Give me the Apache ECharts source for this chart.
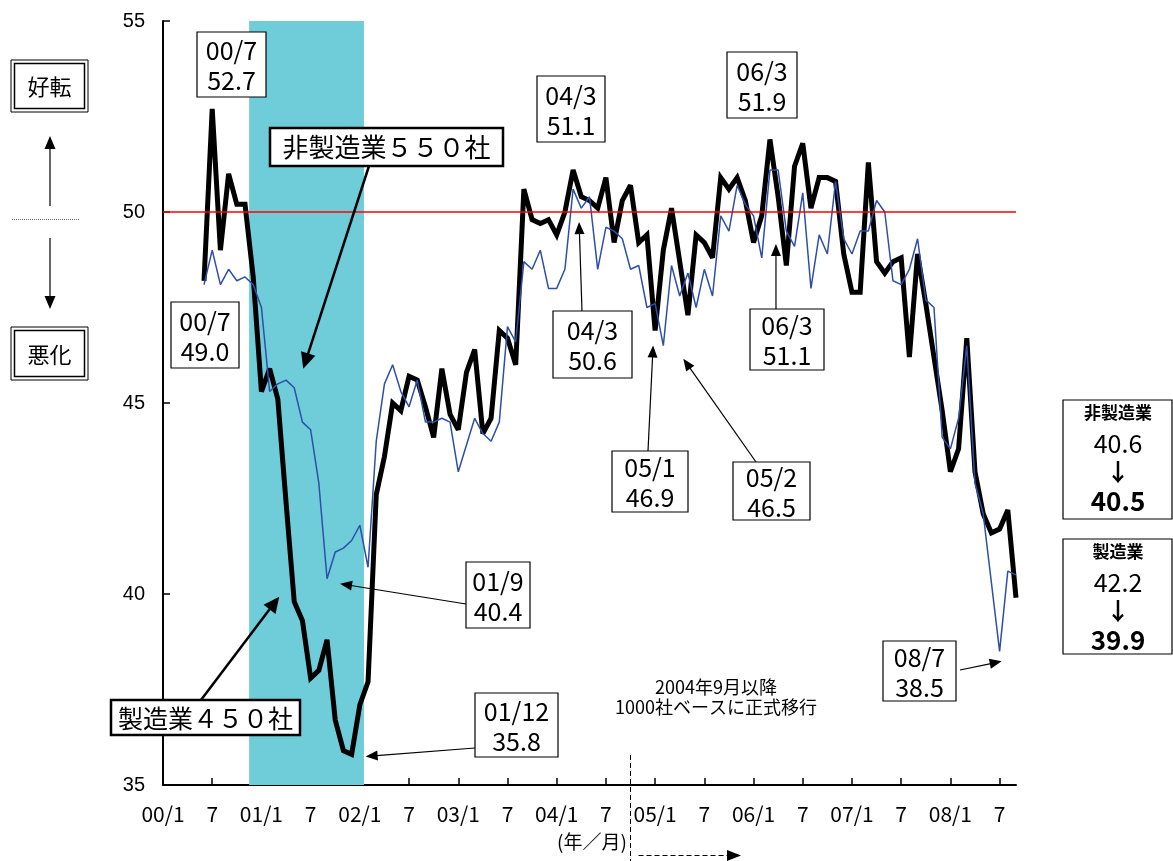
<!DOCTYPE html>
<html>
<head>
<meta charset="utf-8">
<script src="https://cdn.jsdelivr.net/npm/echarts@6/dist/echarts.min.js"></script>
<style>
  html, body { margin: 0; padding: 0; background: #fff; }
  #chart { width: 1173px; height: 861px; }
</style>
</head>
<body>
<div id="chart"></div>
<script>
// Business sentiment index (DI), monthly, 2000/6 - 2008/9
const axisStartYear = 2000;          // x = 0 is 2000/1
const firstObs = '2000/6';           // first month of both series
const tickLabels = ['00/1','7','01/1','7','02/1','7','03/1','7','04/1','7',
                    '05/1','7','06/1','7','07/1','7','08/1','7'];
const tickStep = 6;                  // months between ticks

// 製造業 (manufacturing, 450 firms)
const manufacturing = [
  48.2, 52.7, 49.0, 51.0, 50.2, 50.2, 48.3, 45.3, 45.9, 45.1,
  42.4, 39.8, 39.3, 37.8, 38.0, 38.8, 36.7, 35.9, 35.8, 37.1,
  37.7, 42.6, 43.6, 45.0, 44.8, 45.7, 45.6, 44.9, 44.1, 45.9,
  44.7, 44.3, 45.8, 46.4, 44.2, 44.6, 46.9, 46.7, 46.0, 50.6,
  49.8, 49.7, 49.8, 49.4, 50.0, 51.1, 50.4, 50.3, 50.1, 50.9,
  49.2, 50.3, 50.7, 49.2, 49.4, 46.9, 49.0, 50.1, 48.7, 47.3,
  49.4, 49.2, 48.8, 50.9, 50.6, 50.9, 50.3, 49.2, 49.9, 51.9,
  50.4, 48.6, 51.2, 51.8, 50.1, 50.9, 50.9, 50.8, 48.9, 47.9,
  47.9, 51.3, 48.7, 48.4, 48.7, 48.8, 46.2, 48.9, 47.6, 46.2,
  44.8, 43.2, 43.8, 46.7, 43.2, 42.1, 41.6, 41.7, 42.2, 39.9
];
// 非製造業 (non-manufacturing, 550 firms)
const nonManufacturing = [
  48.1, 49.0, 48.1, 48.5, 48.2, 48.3, 48.1, 47.5, 45.3, 45.5,
  45.6, 45.4, 44.5, 44.3, 42.9, 40.4, 41.1, 41.2, 41.4, 41.8,
  40.7, 44.0, 45.5, 46.0, 45.3, 44.9, 45.6, 44.5, 44.5, 44.6,
  44.5, 43.2, 43.9, 44.6, 44.2, 44.0, 44.5, 47.0, 46.6, 48.7,
  48.5, 49.0, 48.0, 48.0, 48.5, 50.6, 50.1, 50.4, 48.5, 49.6,
  49.5, 49.3, 48.5, 48.6, 47.5, 47.6, 46.5, 48.6, 47.8, 48.4,
  47.5, 48.5, 47.8, 49.9, 49.5, 50.7, 50.2, 49.9, 48.8, 51.1,
  51.1, 49.5, 49.1, 50.5, 48.0, 49.4, 48.9, 50.8, 49.3, 48.9,
  49.5, 49.5, 50.3, 50.0, 48.2, 48.1, 48.5, 49.3, 47.7, 47.5,
  44.1, 43.8, 44.6, 46.5, 42.9, 42.1, 40.3, 38.5, 40.6, 40.5
];
const recessionMonths = ['2000/12', '2002/1'];   // shaded span (inclusive)
const neutralLine = 50;
const baseChangeMonth = '2004/10';               // first month on the 1000-firm base

const monthIndex = s => {
  const [y, m] = s.split('/').map(Number);
  return (y - axisStartYear) * 12 + (m - 1);
};
const first = monthIndex(firstObs);
const lastIndex = first + manufacturing.length - 1;
const toPoints = arr => arr.map((v, k) => [first + k, v]);
const valueAt = (arr, s) => arr[monthIndex(s) - first];
const shortMonth = s => { const [y, m] = s.split('/'); return y.slice(2) + '/' + m; };
const tickValues = tickLabels.map((_, k) => k * tickStep);

const JP = '"Noto Sans CJK JP", "Noto Sans", sans-serif';
const chart = echarts.init(document.getElementById('chart'), null, { renderer: 'canvas' });

chart.setOption({
  animation: false,
  backgroundColor: '#fff',
  grid: { left: 163, right: 157, top: 21, bottom: 76 },
  xAxis: {
    type: 'value', min: 0, max: lastIndex,
    axisLine: { onZero: false, lineStyle: { color: '#000', width: 2 } },
    axisTick: { inside: true, length: 7, customValues: tickValues, lineStyle: { color: '#000', width: 1.5 } },
    axisLabel: {
      customValues: tickValues,
      formatter: v => tickLabels[Math.round(v / tickStep)],
      color: '#000', fontFamily: JP, fontSize: 21, margin: 19
    },
    splitLine: { show: false }
  },
  yAxis: {
    type: 'value', min: 35, max: 55, interval: 5,
    axisLine: { show: true, onZero: false, lineStyle: { color: '#000', width: 2 } },
    axisTick: { show: true, inside: true, length: 7, lineStyle: { color: '#000', width: 1.5 } },
    axisLabel: { color: '#000', fontFamily: '"Liberation Sans", Arial, sans-serif', fontSize: 20, margin: 18 },
    splitLine: { show: false }
  },
  series: [
    {
      type: 'line', data: [], z: 1, silent: true,
      markArea: {
        silent: true,
        itemStyle: { color: '#6FCCD9', opacity: 1 },
        data: [[{ xAxis: monthIndex(recessionMonths[0]) - 0.5 }, { xAxis: monthIndex(recessionMonths[1]) + 0.5 }]]
      },
      markLine: {
        silent: true, symbol: 'none', label: { show: false },
        lineStyle: { color: '#FF0000', width: 1.5, type: 'solid' },
        data: [{ yAxis: neutralLine }]
      }
    },
    {
      name: '製造業', type: 'line', data: toPoints(manufacturing), z: 3,
      showSymbol: false, symbol: 'none',
      lineStyle: { color: '#000', width: 5, join: 'miter', miterLimit: 3 }
    },
    {
      name: '非製造業', type: 'line', data: toPoints(nonManufacturing), z: 4,
      showSymbol: false, symbol: 'none',
      lineStyle: { color: '#2D4FA8', width: 1.5 }
    }
  ]
});

// ---------- annotations ----------
const px = (x, y) => chart.convertToPixel({ gridIndex: 0 }, [x, y]);

function arrow(x1, y1, x2, y2, lw, len, wid) {
  const dx = x2 - x1, dy = y2 - y1, L = Math.hypot(dx, dy);
  const ux = dx / L, uy = dy / L, nx = -uy, ny = ux;
  const bx = x2 - ux * len, by = y2 - uy * len;
  return [
    { type: 'line', z: 20, shape: { x1, y1, x2: bx + ux, y2: by + uy }, style: { stroke: '#000', lineWidth: lw } },
    { type: 'polygon', z: 20, shape: { points: [[x2, y2], [bx + nx * wid / 2, by + ny * wid / 2], [bx - nx * wid / 2, by - ny * wid / 2]] },
      style: { fill: '#000' } }
  ];
}
function textEl(x, y, text, font, extra) {
  return Object.assign({
    type: 'text', z: 22,
    style: { x, y, text, font, fill: '#000', align: 'center', verticalAlign: 'middle',
             textAlign: 'center', textVerticalAlign: 'middle' }
  }, extra || {});
}
function boxEl(x, y, w, h, lw) {
  return { type: 'rect', z: 21, shape: { x, y, width: w, height: h },
           style: { fill: '#fff', stroke: '#000', lineWidth: lw } };
}
function valueBox(x, y, w, h, label, value) {
  const t = textEl(x + w / 2, y + h / 2 + 1, label + '\n' + value.toFixed(1), '25px ' + JP);
  t.style.lineHeight = 30;
  return [boxEl(x, y, w, h, 1.2), t];
}
// arrow tip anchored to a data point, shifted by (dx, dy) pixels
function pointTo(arr, month, from, dx, dy, heavy) {
  const p = px(monthIndex(month), valueAt(arr, month));
  return heavy ? arrow(from[0], from[1], p[0] + dx, p[1] + dy, 2.5, 16, 15)
               : arrow(from[0], from[1], p[0] + dx, p[1] + dy, 1.2, 12, 10);
}

const g = [];
const M = manufacturing, N = nonManufacturing;

// value call-outs
g.push(...valueBox(197, 32, 69, 65, shortMonth('2000/7'), valueAt(M, '2000/7')));
g.push(...valueBox(171, 302, 68, 66, shortMonth('2000/7'), valueAt(N, '2000/7')));
g.push(...valueBox(466, 562, 64, 66, shortMonth('2001/9'), valueAt(N, '2001/9')));
g.push(...pointTo(N, '2001/9', [466, 604], 13, 5));
g.push(...valueBox(475, 693, 83, 64, shortMonth('2001/12'), valueAt(M, '2001/12')));
g.push(...pointTo(M, '2001/12', [475, 748], 14, 2));
g.push(...valueBox(537, 76, 68, 66, shortMonth('2004/3'), valueAt(M, '2004/3')));
g.push(...pointTo(N, '2004/3', [582, 311], 6, 33));
g.push(...valueBox(553, 311, 79, 67, shortMonth('2004/3'), valueAt(N, '2004/3')));
g.push(...pointTo(M, '2005/1', [648, 451], -2, 15));
g.push(...valueBox(612, 451, 76, 61, shortMonth('2005/1'), valueAt(M, '2005/1')));
g.push(...pointTo(N, '2005/2', [756, 462], 20, 13));
g.push(...valueBox(733, 462, 77, 58, shortMonth('2005/2'), valueAt(N, '2005/2')));
g.push(...valueBox(727, 52, 70, 66, shortMonth('2006/3'), valueAt(M, '2006/3')));
g.push(...pointTo(N, '2006/3', [776, 309], 6, 74));
g.push(...valueBox(750, 309, 74, 61, shortMonth('2006/3'), valueAt(N, '2006/3')));
g.push(...valueBox(883, 641, 73, 60, shortMonth('2008/7'), valueAt(N, '2008/7')));
g.push(...pointTo(N, '2008/7', [960, 670], 2, 10));

// series name call-outs
g.push(...pointTo(N, '2001/5', [369, 166], 9, -19, true));
g.push(boxEl(270, 128, 233, 38, 2.5), textEl(386.5, 147.5, '非製造業５５０社', '26px ' + JP));
g.push(...pointTo(M, '2001/5', [201, 700], -15, -5, true));
g.push(boxEl(111, 700, 189, 35, 2.5), textEl(205.5, 718, '製造業４５０社', '25px ' + JP));

// latest change boxes on the right
const last = manufacturing.length - 1;
function changeBox(y, h, title, prev, cur) {
  return [
    boxEl(1063, y, 109, h, 1.2),
    textEl(1118, y + 13, title, 'bold 17px ' + JP),
    textEl(1118, y + 43, prev.toFixed(1), '25px ' + JP),
    textEl(1118, y + 72, '↓', 'bold 24px ' + JP),
    textEl(1118, y + 101, cur.toFixed(1), 'bold 26px ' + JP)
  ];
}
g.push(...changeBox(400, 119, '非製造業', N[last - 1], N[last]));
g.push(...changeBox(539, 115, '製造業', M[last - 1], M[last]));

// improve / worsen legend on the left
function doubleBox(x, y, w, h, text) {
  return [
    { type: 'rect', z: 21, shape: { x, y, width: w, height: h }, style: { fill: '#fff', stroke: '#000', lineWidth: 1 } },
    { type: 'rect', z: 21, shape: { x: x + 3.5, y: y + 3.5, width: w - 7, height: h - 7 }, style: { fill: 'none', stroke: '#000', lineWidth: 1.5 } },
    textEl(x + w / 2, y + h / 2 + 1, text, '22px ' + JP)
  ];
}
g.push(...doubleBox(11, 60, 77, 52, '好転'));
g.push(...doubleBox(11, 327, 77, 53, '悪化'));
g.push(...arrow(50, 206, 50, 136, 1.2, 13, 11));
g.push(...arrow(50, 238, 50, 309, 1.2, 13, 11));
g.push({ type: 'line', z: 20, shape: { x1: 12, y1: 219.5, x2: 80, y2: 219.5 },
         style: { stroke: '#666', lineWidth: 1, lineDash: [1, 1] } });

// sample base change marker
const bx = px(monthIndex(baseChangeMonth), 35)[0];
g.push({ type: 'line', z: 20, shape: { x1: bx, y1: 755, x2: bx, y2: 861 },
         style: { stroke: '#000', lineWidth: 1, lineDash: [5, 3] } });
g.push({ type: 'line', z: 20, shape: { x1: bx + 8, y1: 855.5, x2: 728, y2: 855.5 },
         style: { stroke: '#000', lineWidth: 1.2, lineDash: [5, 3] } });
g.push({ type: 'polygon', z: 20, shape: { points: [[741, 855.5], [727, 850], [727, 861]] }, style: { fill: '#000' } });
g.push(textEl(716, 687, '2004年9月以降', '18px ' + JP));
g.push(textEl(716, 707, '1000社ベースに正式移行', '18px ' + JP));
g.push(textEl(592, 842, '(年／月)', '19px ' + JP));

chart.setOption({ graphic: { elements: g } });
</script>
</body>
</html>
